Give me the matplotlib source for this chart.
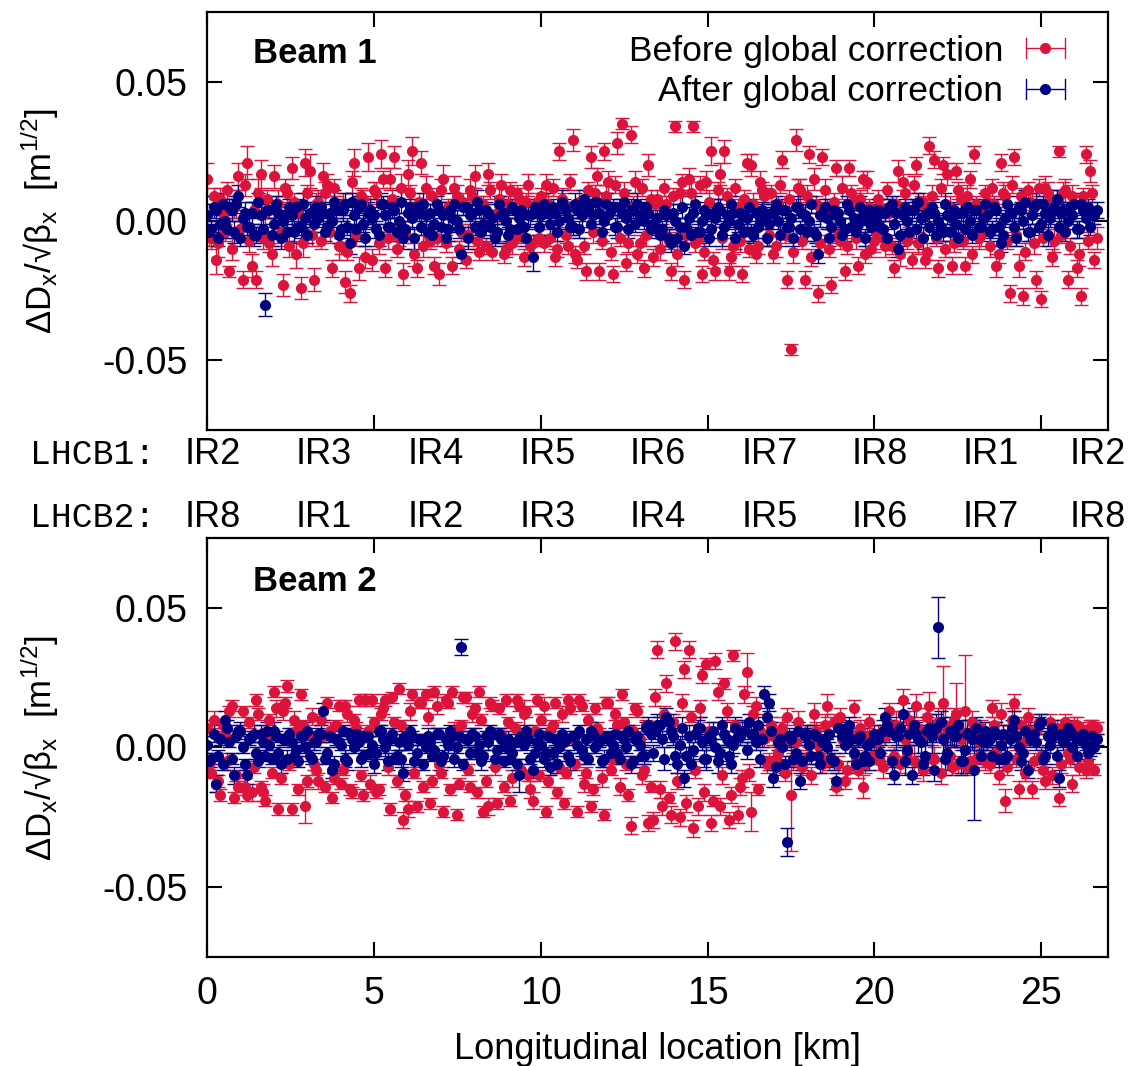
import numpy as np
import matplotlib
matplotlib.use('Agg')
import matplotlib.pyplot as plt
import matplotlib.transforms as mtrans
from matplotlib.lines import Line2D
from matplotlib.legend_handler import HandlerBase
from matplotlib.ticker import FormatStrFormatter

plt.rcParams['font.family'] = ['Liberation Sans', 'DejaVu Sans']
plt.rcParams['mathtext.fontset'] = 'custom'
plt.rcParams['mathtext.rm'] = 'Liberation Sans'
plt.rcParams['mathtext.default'] = 'regular'
plt.rcParams['axes.unicode_minus'] = False

#%%
# BPM grid along the ring [km]; values in units of 1e-3 m^1/2
# main list = even BPMs, *_mid list = the BPMs sitting in between
n_bpm = 400
bpm_s = np.linspace(0, 26.66, n_bpm)

b1_before = [
    15, -6, -14, 8, -4, -18, 5, 16, -21, 21, -16, -21, 17, 3, -8, 16, 6, -23, 10, 19, -12, -24, 21, 18, -21,
    7, 16, 13, -17, 5, -9, -22, -26, 21, -17, 8, 23, -14, 10, 24, -17, 15, 23, -6, -19, 17, 25, -17, 21, 12,
    -7, -16, -19, 15, 5, -16, 9, -4, -14, 11, 16, -11, 6, 17, -11, 3, 13, -10, 11, -6, 8, -13, 13, -8, 7,
    9, 13, -6, -13, 25, 6, -9, 29, -14, 4, -18, 23, 10, -18, 25, 14, -19, 28, 35, -15, 31, 14, -8, -17, 20,
    -13, 8, -5, 6, -18, 34, 10, -21, 15, 34, -6, -19, 14, 25, -18, 17, 25, -18, -9, 5, -19, 21, 20, -12, 14,
    9, -5, -12, 6, 22, -21, -46, 29, 11, -21, 24, 15, -26, 23, 4, -23, 19, -7, -18, 19, 7, -16, 15, 14, -10,
    -4, 5, -9, 3, -17, 18, 14, -7, -14, 20, 6, -14, 27, 22, -17, 20, 17, -16, 18, 8, -16, 15, 24, -6, 5,
    7, 12, -16, 21, 9, -26, 23, -16, -27, 11, 6, -21, -28, 12, 8, -7, 25, 10, -21, 9, -17, -27, 24, 18, -14,
]
b1_before_mid = [
    -5, 9, -8, 3, 11, -10, 6, -3, 13, -7, 4, 10, -6, 8, -12, 5, -4, 12, -9, 7, 3, -8, 10, -5, 6,
    -7, 10, -4, 12, -9, 6, -11, 14, -5, 9, -13, 4, 11, -8, 15, -6, 8, -10, 12, -4, 10, -12, 7, -9, -5,
    9, -6, 11, -8, 4, 12, -10, 7, -5, 9, -7, 5, -9, 11, -4, 8, -12, 6, -8, 10, -5, 7, -9, 4, -6,
    -8, 6, 12, -10, 8, -5, 14, -12, 7, -9, 11, -4, 16, -7, 9, -11, 13, -6, 10, -8, 5, -12, 12, -5, 8,
    6, -10, 12, -7, 9, -12, 14, -5, 10, -8, 13, -11, 7, -14, 11, -6, 9, -13, 12, -7, 8, -10, 6, -9, 11,
    -6, 10, -9, 13, -5, 8, -11, 12, -7, 9, -13, 6, -8, 11, -10, 7, -5, 12, -9, 10, -6, 8, -12, 5, -7,
    8, -6, 11, -9, 6, -12, 10, -5, 13, -8, 7, -11, 9, -6, 12, -10, 5, -8, 11, -7, 9, -12, 6, -5, 10,
    -9, 6, -12, 10, -7, 13, -5, 9, -11, 7, -8, 12, -6, 10, -13, 8, -5, 11, -9, 6, -12, 9, -7, 10, -6,
]
b1_before_err = [
    6, 4, 5, 4, 3, 2, 4, 5, 3, 6, 4, 3, 5, 4, 3, 4, 5, 4, 3, 4, 5, 4, 5, 6, 4,
    4, 5, 4, 3, 4, 3, 4, 3, 5, 4, 3, 5, 4, 4, 5, 3, 4, 4, 3, 4, 5, 5, 3, 4, 4,
    3, 3, 4, 5, 3, 3, 4, 3, 3, 4, 4, 3, 3, 4, 3, 3, 4, 3, 3, 3, 4, 3, 4, 3, 3,
    3, 4, 3, 3, 3, 4, 3, 4, 3, 3, 3, 4, 3, 3, 3, 4, 3, 4, 2, 3, 3, 4, 3, 3, 4,
    3, 3, 4, 3, 3, 2, 4, 3, 4, 2, 3, 3, 4, 5, 3, 4, 4, 3, 3, 3, 3, 3, 4, 3, 4,
    3, 4, 3, 3, 3, 3, 2, 4, 4, 3, 3, 4, 3, 3, 4, 3, 3, 3, 3, 3, 3, 3, 3, 4, 3,
    3, 3, 4, 3, 3, 4, 3, 3, 3, 3, 3, 3, 3, 3, 3, 3, 4, 3, 3, 4, 3, 3, 3, 4, 3,
    4, 3, 4, 3, 4, 3, 3, 4, 3, 3, 4, 3, 3, 4, 3, 4, 2, 4, 3, 4, 3, 3, 3, 4, 3,
]
b1_before_mid_err = [
    4, 3, 5, 4, 3, 4, 5, 3, 4, 4, 3, 5, 4, 3, 4, 4, 5, 3, 4, 3, 4, 5, 3, 4, 4,
    3, 4, 4, 3, 5, 4, 3, 4, 4, 3, 4, 5, 3, 4, 3, 4, 4, 3, 5, 4, 3, 4, 3, 4, 4,
    3, 3, 4, 3, 3, 4, 3, 3, 4, 3, 3, 4, 3, 3, 3, 4, 3, 3, 4, 3, 3, 3, 4, 3, 3,
    3, 4, 3, 3, 4, 3, 3, 3, 4, 3, 3, 4, 3, 3, 4, 3, 3, 3, 4, 3, 4, 3, 3, 4, 3,
    3, 4, 3, 3, 3, 4, 3, 3, 4, 3, 3, 3, 4, 3, 3, 4, 3, 3, 3, 4, 3, 3, 4, 3, 3,
    3, 3, 4, 3, 3, 3, 4, 3, 3, 4, 3, 3, 3, 4, 3, 3, 3, 4, 3, 3, 4, 3, 3, 3, 4,
    3, 4, 3, 3, 3, 4, 3, 3, 3, 4, 3, 3, 4, 3, 3, 3, 4, 3, 3, 3, 4, 3, 3, 4, 3,
    4, 3, 3, 4, 3, 3, 4, 3, 3, 3, 4, 3, 3, 4, 3, 3, 3, 4, 3, 3, 4, 3, 3, 3, 4,
]
b1_after = [
    2, -3, 4, -1, 0, 5, -4, 9, 1, -2, 3, -5, 2, -30, 4, -1, 3, 0, -4, 2, 5, -2, 1, 3, -1,
    1, 3, -2, 0, 4, -3, 6, -8, 2, 5, -1, 3, 1, -3, 6, 2, -2, 4, 0, -6, 3, 1, 5, -2, 2,
    3, -1, 4, 2, -3, 1, 0, -12, 5, 2, -2, 4, -1, 3, 1, -4, 2, 0, -3, 4, 1, -2, 2, -13, 3,
    2, 4, -1, 3, 0, 5, 1, -2, 4, 2, 6, -1, 7, 3, 0, 2, 5, -2, 3, 1, 4, -1, 2, 0, 3,
    -1, 1, -3, 2, -8, 0, -2, -9, 1, 3, -4, 0, 2, -3, 1, 4, -2, 0, 3, -1, 2, 1, -4, 3, 0,
    2, -1, 3, 0, 4, -2, 1, 5, -3, 2, 0, -4, -12, 3, 1, -2, 2, 0, -3, 4, 1, -1, 2, 0, -2,
    1, -2, 3, 5, -1, -10, 2, 0, 4, -3, 1, 2, -2, 3, 0, -4, 2, 1, -1, 3, -3, 0, 4, -2, 1,
    2, -3, 4, -8, 1, 3, -2, 5, 0, -4, 2, 6, -1, 3, 1, 5, -2, 4, 0, 2, -3, 6, 1, -2, 2,
]
b1_after_mid = [
    -4, 5, -6, 6, -3, 4, 6, -6, 3, -2, -5, 7, -3, 4, -5, 6, -6, 2, 5, -4, -2, 6, -5, 3, 5,
    5, -4, 3, 7, -5, 4, -2, 7, -3, 6, -6, 4, 2, -5, 6, -2, 5, -4, 7, -3, 5, -6, 3, 6, -4,
    -5, 6, -2, -6, 4, 6, -3, 5, -6, 3, 7, -4, 4, -2, -6, 6, 3, -5, 5, -3, 4, -6, 2, 5, -2,
    6, 3, 5, -4, 7, 4, -2, 6, -3, 8, 5, 2, 7, -4, 6, 4, -2, 5, 7, -3, 4, 6, 2, 5, -3,
    -2, -5, 4, -6, 3, -6, 5, -2, -5, 6, -4, 4, -6, 3, 5, -5, 2, 6, -6, 3, -4, 5, -5, -2, 4,
    -6, 3, 6, -5, 4, -2, -6, 5, 3, -4, 6, -5, 2, 5, -6, 4, 3, -5, 6, -2, -4, 5, -6, 4, 3,
    4, -3, -6, 6, 3, -5, 5, -4, 4, 7, -6, 3, 5, -5, -2, 6, -4, 4, -6, 3, 5, -5, 4, -2, 6,
    -4, 5, -2, -5, 6, 3, -6, 4, 7, -4, 5, -2, 6, -5, 4, 8, 3, -4, 5, 6, -3, 4, 5, 2, 4,
]
b1_after_err = [
    4, 3, 4, 3, 4, 3, 4, 4, 3, 4, 4, 3, 4, 4, 3, 4, 3, 4, 3, 4, 3, 4, 3, 4, 3,
    3, 4, 3, 4, 3, 3, 4, 4, 3, 4, 3, 4, 3, 3, 4, 3, 4, 3, 3, 4, 3, 4, 3, 3, 4,
    3, 4, 3, 3, 4, 3, 4, 3, 3, 4, 3, 3, 4, 3, 3, 4, 3, 3, 4, 3, 3, 4, 3, 5, 3,
    3, 3, 4, 3, 3, 3, 4, 3, 3, 4, 3, 3, 3, 4, 3, 3, 3, 4, 3, 3, 4, 3, 3, 3, 4,
    3, 3, 3, 4, 3, 3, 3, 3, 4, 3, 3, 4, 3, 3, 3, 4, 3, 3, 3, 3, 4, 3, 3, 3, 3,
    3, 4, 3, 3, 4, 3, 3, 3, 3, 4, 3, 3, 3, 3, 4, 3, 3, 3, 4, 3, 3, 3, 3, 4, 3,
    3, 3, 3, 3, 4, 3, 3, 3, 4, 3, 3, 3, 3, 4, 3, 3, 3, 3, 4, 3, 3, 3, 4, 3, 3,
    3, 3, 4, 3, 3, 3, 3, 4, 3, 3, 3, 4, 3, 3, 3, 3, 4, 3, 3, 3, 3, 4, 3, 3, 3,
]
b1_after_mid_err = [
    3, 4, 3, 4, 3, 4, 3, 3, 4, 3, 4, 3, 4, 3, 4, 3, 4, 3, 3, 4, 3, 4, 3, 3, 4,
    4, 3, 3, 4, 3, 4, 3, 3, 4, 3, 3, 4, 3, 4, 3, 3, 4, 3, 4, 3, 3, 4, 3, 4, 3,
    3, 3, 4, 3, 3, 4, 3, 3, 4, 3, 4, 3, 3, 4, 3, 3, 4, 3, 3, 4, 3, 3, 4, 3, 3,
    4, 3, 3, 3, 4, 3, 3, 4, 3, 3, 3, 4, 3, 3, 4, 3, 3, 3, 4, 3, 3, 4, 3, 3, 3,
    3, 4, 3, 3, 3, 3, 4, 3, 3, 3, 4, 3, 3, 3, 3, 4, 3, 3, 4, 3, 3, 3, 3, 4, 3,
    3, 3, 3, 4, 3, 3, 3, 4, 3, 3, 3, 3, 4, 3, 3, 3, 4, 3, 3, 3, 3, 4, 3, 3, 3,
    4, 3, 3, 3, 3, 4, 3, 3, 3, 3, 4, 3, 3, 3, 3, 4, 3, 3, 3, 4, 3, 3, 3, 3, 4,
    3, 3, 3, 4, 3, 3, 3, 3, 4, 3, 3, 3, 3, 4, 3, 3, 3, 3, 4, 3, 3, 3, 3, 3, 3,
]

b2_before = [
    7, -9, -13, -17, 5, 13, -18, -14, 13, -17, -16, 17, -14, -19, 10, 20, -22, 13, 22, -22, 6, 19, -21, 4, -6,
    -12, 4, 16, -18, 8, -13, 15, -15, 10, 17, -17, 6, 17, -16, 12, 17, -22, 9, 21, -26, -22, 19, -21, 16, 19,
    -20, 20, -6, -23, 16, 20, -24, 8, 18, -14, 14, 20, -23, -21, 15, -20, 5, 17, -19, 7, 15, 12, -10, -19, 17,
    10, -23, 6, 16, -7, -20, 17, 3, -23, 15, -9, -21, 14, 5, -24, 16, -4, 8, 19, -6, -28, 14, 3, -8, -27,
    -26, 35, -21, 23, -24, 38, -25, 28, 35, -29, -21, 26, 30, -27, 31, -21, 23, -26, 33, -24, -11, 27, -23, 15, 6,
    3, -5, 4, -2, 7, 11, -17, 2, -4, 5, -3, 12, 1, -6, 15, -4, -14, 11, -12, 3, 14, -8, -14, 4, -3,
    2, -5, 4, 13, -3, 6, 17, -2, 8, 15, -6, 5, 15, -4, 9, 16, 5, -7, 12, 3, 13, -5, 6, 2, -4,
    3, 14, -2, 12, -19, 5, 16, -15, 2, 11, -15, 6, -3, -12, 9, 4, -18, 7, -2, -13, 8, 5, -8, 7, -8,
]
b2_before_mid = [
    -6, 10, -12, 8, -5, 15, -10, 6, -14, 9, -7, 12, -16, 5, -9, 14, -11, 16, -6, 10, -15, 8, -12, 11, -8,
    10, -14, 6, -11, 15, -8, 12, -16, 7, -10, 17, -13, 9, -15, 14, -7, 18, -12, 8, -17, 13, -9, 16, -14, 11,
    -12, 15, -9, 17, -15, 6, -13, 18, -8, 12, -16, 10, -12, 16, -7, 14, -14, 9, -11, 17, -8, 13, -15, 6, -10,
    15, -12, 8, -16, 12, -9, 14, -6, 17, -13, 10, -15, 7, -11, 16, -8, 12, -14, 9, -17, 6, 13, -10, 8, -14,
    18, -15, 12, -18, 9, -12, 16, -20, 11, -8, 14, -16, 6, -19, 20, -10, 13, -17, 8, -14, 19, -9, 12, -15, 5,
    -6, 8, -4, 6, -9, 3, -5, 9, -7, 4, -10, 6, -3, 8, -5, 9, -6, 3, -8, 5, -4, 7, -6, 9, -3,
    5, -7, 9, -4, 8, -6, 3, 10, -5, 7, -8, 11, -4, 6, -9, 8, -3, 10, -6, 5, -7, 9, -4, 7, -5,
    -6, 8, -10, 5, -7, 10, -4, 8, -9, 6, -5, 9, -8, 4, -10, 7, -6, 9, -4, 8, -7, 6, -5, 8, 7,
]
b2_before_err = [
    3, 2, 3, 2, 2, 2, 2, 2, 2, 2, 3, 2, 2, 2, 2, 2, 2, 3, 2, 2, 2, 2, 6, 2, 2,
    3, 2, 2, 2, 2, 2, 2, 2, 2, 2, 2, 2, 2, 2, 2, 2, 2, 2, 2, 3, 3, 2, 2, 2, 2,
    2, 2, 2, 2, 2, 2, 2, 2, 2, 2, 2, 2, 2, 3, 2, 2, 2, 2, 2, 2, 2, 5, 2, 3, 2,
    2, 2, 2, 2, 2, 2, 2, 2, 2, 2, 2, 2, 2, 2, 2, 2, 2, 2, 2, 2, 3, 2, 2, 2, 3,
    3, 3, 3, 3, 3, 3, 3, 3, 3, 3, 3, 3, 2, 3, 3, 3, 2, 3, 2, 3, 3, 7, 7, 3, 3,
    3, 3, 3, 3, 4, 3, 20, 3, 3, 3, 3, 4, 3, 3, 4, 3, 3, 3, 3, 3, 3, 3, 4, 3, 3,
    3, 3, 3, 3, 3, 3, 4, 3, 3, 4, 3, 3, 5, 4, 5, 13, 4, 3, 11, 4, 20, 3, 4, 3, 3,
    3, 3, 3, 4, 4, 3, 3, 3, 3, 3, 3, 3, 3, 3, 3, 3, 3, 3, 3, 3, 3, 3, 3, 3, 2,
]
b2_before_mid_err = [
    2, 3, 2, 2, 3, 2, 2, 2, 3, 2, 2, 2, 3, 2, 2, 3, 2, 2, 2, 3, 2, 2, 2, 3, 2,
    2, 2, 3, 2, 2, 2, 3, 2, 2, 2, 2, 3, 2, 2, 2, 3, 2, 2, 2, 2, 3, 2, 2, 2, 3,
    2, 3, 2, 2, 2, 3, 2, 2, 2, 3, 2, 2, 2, 2, 3, 2, 2, 2, 3, 2, 2, 2, 3, 2, 2,
    3, 2, 2, 2, 3, 2, 2, 2, 2, 3, 2, 2, 2, 3, 2, 2, 2, 3, 2, 2, 2, 2, 3, 2, 2,
    3, 3, 3, 2, 3, 3, 3, 3, 2, 3, 3, 3, 3, 2, 3, 3, 3, 3, 2, 3, 3, 3, 3, 2, 3,
    3, 3, 4, 3, 3, 3, 3, 4, 3, 3, 3, 3, 3, 4, 3, 3, 3, 3, 3, 4, 3, 3, 3, 3, 3,
    3, 4, 3, 3, 5, 3, 4, 3, 6, 3, 4, 3, 5, 3, 4, 6, 3, 4, 3, 5, 3, 4, 3, 3, 3,
    3, 3, 3, 3, 3, 4, 3, 3, 3, 3, 3, 3, 3, 4, 3, 3, 3, 3, 3, 3, 3, 3, 3, 2, 2,
]
b2_after = [
    1, -4, -13, 3, 10, 2, -10, 6, 0, -10, 4, -2, 5, -3, 1, 6, -2, 3, -4, 2, -1, 4, 0, -3, 2,
    5, 13, -2, -8, 3, 1, -4, 5, 0, 2, -3, 4, 1, -2, 6, 0, 3, -4, 2, -9, 1, 4, -2, 3, 0,
    2, -1, 5, -3, 1, 4, 0, 36, 3, -2, 4, 1, -3, 2, 5, -1, 3, 0, -4, 2, -10, 1, 3, -8, 2,
    1, -2, -7, 3, 0, 2, -3, 4, 1, -1, 3, 6, 0, 2, -4, 3, 1, -2, 4, 0, -6, 3, 1, -3, 8,
    -2, 8, 3, 11, 6, -3, 1, -11, 4, -1, 7, 2, -4, 3, 0, -2, 5, -3, 1, 4, 6, -1, 5, 2, -4,
    19, 16, -11, 2, 0, -34, 3, -2, -12, 4, 1, 5, -3, 2, 0, -4, -12, 7, 1, 8, -2, 3, -5, 1, 2,
    3, -2, 11, 6, -10, 4, 12, -1, -10, 5, 2, -3, 7, -8, 43, 3, -2, 6, 4, -5, -1, 5, -8, 3, 2,
    2, -3, 5, 1, -4, 3, 10, 0, -2, -8, 4, 2, 9, -3, 1, 4, -11, 2, 7, 0, -3, 4, 1, -1, 0,
]
b2_after_mid = [
    -5, 5, -3, -6, 7, -4, 4, 6, -6, 3, 5, -5, 2, 6, -4, 4, -6, 3, 5, -3, -5, 4, 6, -4, 2,
    5, -4, 4, -6, 2, 6, -5, 3, 5, -4, 4, -2, -6, 6, 3, -5, 5, -3, -4, 4, 6, -5, 3, -6, 4,
    -3, 5, -5, 3, 6, -4, 4, -6, 3, 5, -2, -5, 4, 6, -4, 5, -5, 3, -2, -6, 4, 6, -4, -2, 5,
    -4, 4, -2, -6, 5, 3, -5, 4, 6, -3, -4, 5, 3, -5, 4, -2, 5, -4, 3, 6, -5, 4, -3, 7, 5,
    6, 8, -4, 9, 4, -6, 7, -3, -6, 5, 7, -4, 4, 6, -5, 8, 3, -6, 7, 4, 6, 9, 5, 8, 3,
    11, 6, -7, 3, -6, 4, -4, 6, -5, 5, -3, 4, -6, 3, 5, -5, 7, 4, 6, 3, -6, 4, -3, -5, 5,
    3, 6, 8, -5, 4, 7, -5, 5, 8, 3, -6, 6, 4, 7, 9, -4, 6, 4, 8, -5, 5, 3, 7, -3, 6,
    3, 6, -4, 5, -3, 7, 4, -5, 6, 3, 5, 8, -4, 4, 7, -3, 5, 3, 6, 4, 3, 5, -2, 4, 3,
]
b2_after_err = [
    3, 2, 3, 2, 3, 2, 3, 2, 2, 3, 2, 2, 3, 2, 2, 3, 2, 2, 3, 2, 2, 3, 2, 2, 3,
    2, 3, 2, 3, 2, 2, 3, 2, 2, 3, 2, 2, 3, 2, 2, 3, 2, 2, 3, 3, 2, 2, 3, 2, 2,
    2, 3, 2, 2, 3, 2, 2, 3, 2, 2, 3, 2, 2, 3, 2, 2, 3, 2, 2, 3, 6, 2, 2, 3, 2,
    2, 2, 3, 2, 2, 3, 2, 2, 3, 2, 2, 3, 2, 2, 3, 2, 2, 3, 2, 2, 3, 2, 2, 3, 3,
    3, 4, 3, 3, 4, 3, 3, 3, 4, 3, 3, 3, 4, 3, 3, 3, 4, 3, 3, 3, 4, 3, 3, 3, 3,
    3, 3, 3, 3, 3, 5, 3, 3, 3, 3, 3, 3, 3, 3, 3, 3, 3, 3, 3, 3, 3, 3, 3, 3, 3,
    3, 3, 3, 4, 3, 3, 4, 3, 3, 4, 5, 4, 5, 4, 11, 5, 6, 5, 4, 5, 6, 5, 18, 4, 3,
    3, 3, 4, 3, 4, 3, 3, 3, 3, 3, 3, 3, 3, 3, 3, 3, 3, 3, 3, 3, 3, 2, 2, 2, 2,
]
b2_after_mid_err = [
    2, 3, 2, 2, 3, 2, 2, 3, 2, 2, 3, 2, 2, 3, 2, 2, 3, 2, 2, 3, 2, 2, 3, 2, 2,
    3, 2, 2, 3, 2, 2, 3, 2, 2, 3, 2, 2, 3, 2, 2, 3, 2, 2, 3, 2, 2, 3, 2, 2, 3,
    2, 2, 3, 2, 2, 3, 2, 2, 3, 2, 2, 3, 2, 2, 3, 2, 2, 3, 2, 2, 3, 2, 2, 3, 2,
    3, 2, 2, 3, 2, 2, 3, 2, 2, 3, 2, 2, 3, 2, 2, 3, 2, 2, 3, 2, 2, 3, 2, 2, 3,
    3, 3, 4, 3, 3, 3, 4, 3, 3, 3, 4, 3, 3, 3, 4, 3, 3, 3, 4, 3, 3, 3, 4, 3, 3,
    3, 3, 3, 3, 3, 3, 3, 3, 3, 3, 3, 3, 3, 3, 3, 3, 3, 3, 3, 3, 3, 3, 3, 3, 3,
    3, 4, 3, 4, 5, 4, 5, 4, 6, 5, 4, 5, 6, 5, 4, 6, 5, 4, 5, 4, 5, 4, 4, 3, 3,
    3, 3, 3, 3, 3, 3, 3, 3, 3, 3, 3, 3, 3, 3, 3, 3, 3, 3, 3, 3, 2, 2, 2, 2, 2,
]

# IR label positions along the ring [km]
ir_pos = [0.17, 3.5, 6.85, 10.2, 13.5, 16.85, 20.15, 23.5, 26.7]
ir_b1 = ['IR2', 'IR3', 'IR4', 'IR5', 'IR6', 'IR7', 'IR8', 'IR1', 'IR2']
ir_b2 = ['IR8', 'IR1', 'IR2', 'IR3', 'IR4', 'IR5', 'IR6', 'IR7', 'IR8']

red = '#dc143c'
blue = '#000080'
fs = 25

#%%
def merge(even, odd):
    '''put the two BPM lists back in ring order, convert 1e-3 -> m^1/2'''
    out = np.empty(len(even) + len(odd))
    out[0::2] = even
    out[1::2] = odd
    return out * 1e-3


class CapHandler(HandlerBase):
    '''legend key: horizontal bar with end caps and a dot (gnuplot style)'''
    def create_artists(self, legend, orig, xd, yd, w, h, fontsize, trans):
        c = orig.get_color()
        x0, y0 = -xd, h / 2 - yd
        cap = 0.4 * h
        arts = [Line2D([x0, x0 + w], [y0, y0]),
                Line2D([x0, x0], [y0 - cap, y0 + cap]),
                Line2D([x0 + w, x0 + w], [y0 - cap, y0 + cap]),
                Line2D([x0 + w / 2], [y0], marker='o', ms=7, ls='none')]
        for a in arts:
            a.set_color(c)
            a.set_linewidth(1.0)
            a.set_transform(trans)
        return arts


def draw_beam(ax, before, before_err, after, after_err, title, title_y):
    kw = dict(fmt='o', ms=7, elinewidth=1.0, capsize=5, capthick=1.0)
    ax.errorbar(bpm_s, before, yerr=before_err, color=red, **kw)
    ax.errorbar(bpm_s, after, yerr=after_err, color=blue, **kw)
    ax.set_xlim(0, 27)
    ax.set_ylim(-0.075, 0.075)
    ax.set_xticks([0, 5, 10, 15, 20, 25])
    ax.set_yticks([-0.05, 0, 0.05])
    ax.yaxis.set_major_formatter(FormatStrFormatter('%.2f'))
    ax.tick_params(direction='in', length=11, width=1.5, top=True, right=True,
                   labelsize=27, pad=14)
    for sp in ax.spines.values():
        sp.set_linewidth(1.6)
    ax.set_ylabel('ΔD$_x$/√β$_x$  [m$^{1/2}$]', fontsize=fs)
    ax.yaxis.set_label_coords(-0.162, 0.5)
    ax.text(0.051, title_y, title, transform=ax.transAxes, fontsize=fs,
            fontweight='bold', va='center', ha='left')


fig = plt.figure(figsize=(11.28, 10.66), dpi=100)
ax_top = fig.add_axes([0.1835, 0.5966, 0.7988, 0.3921])
ax_bot = fig.add_axes([0.1835, 0.1023, 0.7988, 0.3930])

draw_beam(ax_top, merge(b1_before, b1_before_mid), merge(b1_before_err, b1_before_mid_err),
          merge(b1_after, b1_after_mid), merge(b1_after_err, b1_after_mid_err), 'Beam 1', 0.9)
draw_beam(ax_bot, merge(b2_before, b2_before_mid), merge(b2_before_err, b2_before_mid_err),
          merge(b2_after, b2_after_mid), merge(b2_after_err, b2_after_mid_err), 'Beam 2', 0.895)
ax_top.tick_params(labelbottom=False)
ax_bot.set_xlabel('Longitudinal location [km]', fontsize=26, labelpad=14)

ax_top.legend(handles=[Line2D([], [], color=red), Line2D([], [], color=blue)],
              labels=['Before global correction', 'After global correction'],
              handler_map={Line2D: CapHandler()}, loc='upper right',
              bbox_to_anchor=(0.9915, 1.031),
              frameon=False, markerfirst=False, fontsize=25.5,
              handlelength=1.1, handletextpad=0.65, labelspacing=0.22,
              borderaxespad=0.6)

# IR labels between the panels
tr = mtrans.blended_transform_factory(ax_bot.transData, fig.transFigure)
for y, name, irs in [(0.5735, 'LHCB1:', ir_b1), (0.5145, 'LHCB2:', ir_b2)]:
    fig.text(0.082, y, name, fontsize=25, family=['Liberation Mono', 'DejaVu Sans Mono'],
             ha='center', va='center')
    for s, lab in zip(ir_pos, irs):
        fig.text(s, y, lab, transform=tr, fontsize=26, ha='center', va='center')

fig.savefig('out.png', dpi=100, facecolor='w')
